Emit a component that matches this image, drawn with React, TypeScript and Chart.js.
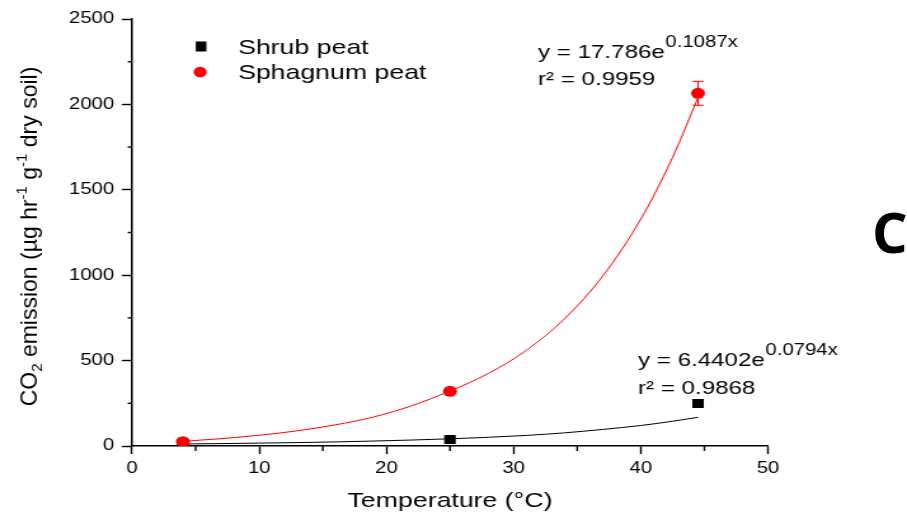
import { useEffect, useRef } from "react";
import { Chart, registerables } from "chart.js";

Chart.register(...registerables);

// Measured CO2 emission at each incubation temperature
const temperatures = [4, 25, 44.5];
const shrubPeat = [10, 38, 249];
const sphagnumPeat = [25, 320, 2065];
const sphagnumError = [4, 12, 70];

// Exponential trend lines sampled along the temperature range
const fitTemperatures = [4, 7, 10, 13, 16, 19, 22, 25, 28, 31, 34, 37, 40, 42.5, 44.5];
const shrubFit = [12, 14, 17, 20, 24, 29, 35, 42, 51, 62, 77, 97, 120, 145, 168];
const sphagnumFit = [27, 43, 63, 89, 124, 170, 236, 322, 424, 560, 745, 994, 1328, 1690, 2040];

// Axis ranges and tick spacing
const xRange = [0, 50];
const yRange = [0, 2500];
const xStep = 10;
const yStep = 500;
const xMinorTicks = [5, 15, 25, 35, 45];
const yMinorTicks = [250, 750, 1250, 1750, 2250];

// Trend line equations
const shrubEquation = { lead: "y = 6.4402e", power: "0.0794x", r2: "r² = 0.9868" };
const sphagnumEquation = { lead: "y = 17.786e", power: "0.1087x", r2: "r² = 0.9959" };

const RED = "#ff0000";
const BLACK = "#000000";
const FONT = '"Liberation Sans", Arial, sans-serif';

// The drawing surface is rendered narrower and widened by CSS.
const CANVAS_W = 714;
const CANVAS_H = 518;
const STRETCH = 907 / CANVAS_W;

function line(ctx: CanvasRenderingContext2D, x1: number, y1: number, x2: number, y2: number) {
  ctx.beginPath();
  ctx.moveTo(x1, y1);
  ctx.lineTo(x2, y2);
  ctx.stroke();
}

type Part = { text: string; size: number; shift: number };

const yTitleParts: Part[] = [
  { text: "CO", size: 23, shift: 0 },
  { text: "2", size: 15, shift: 5 },
  { text: " emission (\u00b5g hr", size: 23, shift: 0 },
  { text: "-1", size: 15, shift: -9.5 },
  { text: " g", size: 23, shift: 0 },
  { text: "-1", size: 15, shift: -9.5 },
  { text: " dry soil)", size: 23, shift: 0 },
];

const overlay = {
  id: "overlay",
  afterDatasetsDraw(chart: any) {
    const { ctx } = chart;
    const x = chart.scales.x;
    const y = chart.scales.y;
    ctx.save();
    ctx.strokeStyle = RED;
    ctx.lineWidth = 1;
    temperatures.forEach((t, i) => {
      const px = x.getPixelForValue(t);
      const top = y.getPixelForValue(sphagnumPeat[i] + sphagnumError[i]);
      const bot = y.getPixelForValue(sphagnumPeat[i] - sphagnumError[i]);
      line(ctx, px, top, px, bot);
      line(ctx, px - 4.3, top, px + 4.3, top);
      line(ctx, px - 4.3, bot, px + 4.3, bot);
    });
    ctx.restore();
  },
  afterDraw(chart: any) {
    const { ctx, chartArea } = chart;
    const x = chart.scales.x;
    const y = chart.scales.y;
    ctx.save();

    // minor ticks
    ctx.strokeStyle = BLACK;
    ctx.lineWidth = 1.4;
    xMinorTicks.forEach((v) => {
      const px = x.getPixelForValue(v);
      line(ctx, px, chartArea.bottom, px, chartArea.bottom + 5);
    });
    yMinorTicks.forEach((v) => {
      const py = y.getPixelForValue(v);
      line(ctx, chartArea.left - 3.4, py, chartArea.left, py);
    });

    // legend
    const pointSets = chart.data.datasets.slice(0, 2).reverse();
    const legendBaselines = [53.5, 78.5];
    ctx.font = `21px ${FONT}`;
    ctx.textBaseline = "alphabetic";
    ctx.textAlign = "left";
    pointSets.forEach((ds: any, i: number) => {
      const cy = legendBaselines[i] - 7;
      ctx.fillStyle = ds.backgroundColor;
      if (ds.pointStyle === "rect") {
        ctx.fillRect(158.3 - 4.2, cy - 5, 8.4, 10);
      } else {
        ctx.beginPath();
        ctx.arc(157.5, cy + 0.5, 5.2, 0, Math.PI * 2);
        ctx.fill();
      }
      ctx.fillStyle = BLACK;
      ctx.fillText(ds.label, 187.4, legendBaselines[i]);
    });

    // trend equations
    const drawEquation = (
      eq: { lead: string; power: string; r2: string },
      left: number,
      base: number
    ) => {
      ctx.fillStyle = BLACK;
      ctx.font = `19px ${FONT}`;
      ctx.fillText(eq.lead, left, base);
      const w = ctx.measureText(eq.lead).width;
      ctx.font = `16px ${FONT}`;
      ctx.fillText(eq.power, left + w + 0.5, base - 11);
      ctx.font = `19px ${FONT}`;
      ctx.fillText(eq.r2, left, base + 27.5);
    };
    drawEquation(sphagnumEquation, 538 / STRETCH, 57.5);
    drawEquation(shrubEquation, 638 / STRETCH, 366);

    // x axis title
    ctx.font = `21px ${FONT}`;
    ctx.textAlign = "center";
    ctx.fillText("Temperature (\u00b0C)", (chartArea.left + chartArea.right) / 2, 507);

    // y axis title, drawn rotated with sub- and superscripts
    ctx.translate(36.5 / STRETCH, (chartArea.top + chartArea.bottom) / 2 + 4);
    ctx.scale(1 / STRETCH, 1);
    ctx.rotate(-Math.PI / 2);
    ctx.textAlign = "left";
    let total = 0;
    yTitleParts.forEach((p) => {
      ctx.font = `${p.size}px ${FONT}`;
      total += ctx.measureText(p.text).width;
    });
    let u = -total / 2;
    yTitleParts.forEach((p) => {
      ctx.font = `${p.size}px ${FONT}`;
      ctx.fillText(p.text, u, p.shift);
      u += ctx.measureText(p.text).width;
    });

    ctx.restore();
  },
};

function axisCommon() {
  return {
    grid: {
      display: true,
      drawOnChartArea: false,
      drawTicks: true,
      tickLength: 8,
      tickColor: BLACK,
      tickWidth: 1.4,
    },
    border: { display: true, color: BLACK, width: 1.5 },
  };
}

export default function App() {
  const canvasRef = useRef<HTMLCanvasElement>(null);

  useEffect(() => {
    const canvas = canvasRef.current;
    if (!canvas) return;
    const chart = new Chart(canvas, {
      type: "scatter",
      data: {
        datasets: [
          {
            label: "Sphagnum peat",
            data: temperatures.map((t, i) => ({ x: t, y: sphagnumPeat[i] })),
            showLine: false,
            pointStyle: "circle",
            pointRadius: 5.5,
            pointBorderWidth: 0,
            backgroundColor: RED,
            borderColor: RED,
            order: 0,
          },
          {
            label: "Shrub peat",
            data: temperatures.map((t, i) => ({ x: t, y: shrubPeat[i] })),
            showLine: false,
            pointStyle: "rect",
            pointRadius: 6.4,
            pointBorderWidth: 0,
            backgroundColor: BLACK,
            borderColor: BLACK,
            order: 1,
          },
          {
            label: "Sphagnum fit",
            data: fitTemperatures.map((t, i) => ({ x: t, y: sphagnumFit[i] })),
            showLine: true,
            pointRadius: 0,
            borderColor: RED,
            borderWidth: 1,
            cubicInterpolationMode: "monotone",
            order: 2,
          },
          {
            label: "Shrub fit",
            data: fitTemperatures.map((t, i) => ({ x: t, y: shrubFit[i] })),
            showLine: true,
            pointRadius: 0,
            borderColor: BLACK,
            borderWidth: 1,
            cubicInterpolationMode: "monotone",
            order: 3,
          },
        ],
      } as any,
      options: {
        responsive: false,
        animation: false,
        events: [],
        layout: { padding: { left: 0, top: 19, right: CANVAS_W - 768 / STRETCH, bottom: 0 } },
        plugins: {
          legend: { display: false },
          tooltip: { enabled: false },
        },
        scales: {
          x: {
            type: "linear",
            min: xRange[0],
            max: xRange[1],
            ...axisCommon(),
            ticks: {
              stepSize: xStep,
              color: BLACK,
              font: { family: FONT, size: 16 },
              padding: 5,
              maxRotation: 0,
              callback: (v: any) => String(v),
            },
            afterFit: (s: any) => {
              s.height = CANVAS_H - 446;
            },
          },
          y: {
            type: "linear",
            min: yRange[0],
            max: yRange[1],
            ...axisCommon(),
            ticks: {
              stepSize: yStep,
              color: BLACK,
              font: { family: FONT, size: 16 },
              padding: 6,
              callback: (v: any) => String(v),
            },
            afterFit: (s: any) => {
              s.width = 132 / STRETCH;
            },
          },
        },
      } as any,
      plugins: [overlay],
    });
    return () => chart.destroy();
  }, []);

  return (
    <div
      style={{
        position: "absolute",
        left: 0,
        top: 0,
        width: 907,
        height: 518,
        background: "#ffffff",
        overflow: "hidden",
      }}
    >
      <canvas
        ref={canvasRef}
        width={CANVAS_W}
        height={CANVAS_H}
        style={{ width: "907px", height: "518px", display: "block" }}
      />
      <div
        style={{
          position: "absolute",
          left: 872,
          top: 203,
          fontFamily: '"Open Sans", sans-serif',
          fontWeight: 700,
          fontSize: 56,
          lineHeight: 1,
          color: BLACK,
        }}
      >
        C
      </div>
    </div>
  );
}
